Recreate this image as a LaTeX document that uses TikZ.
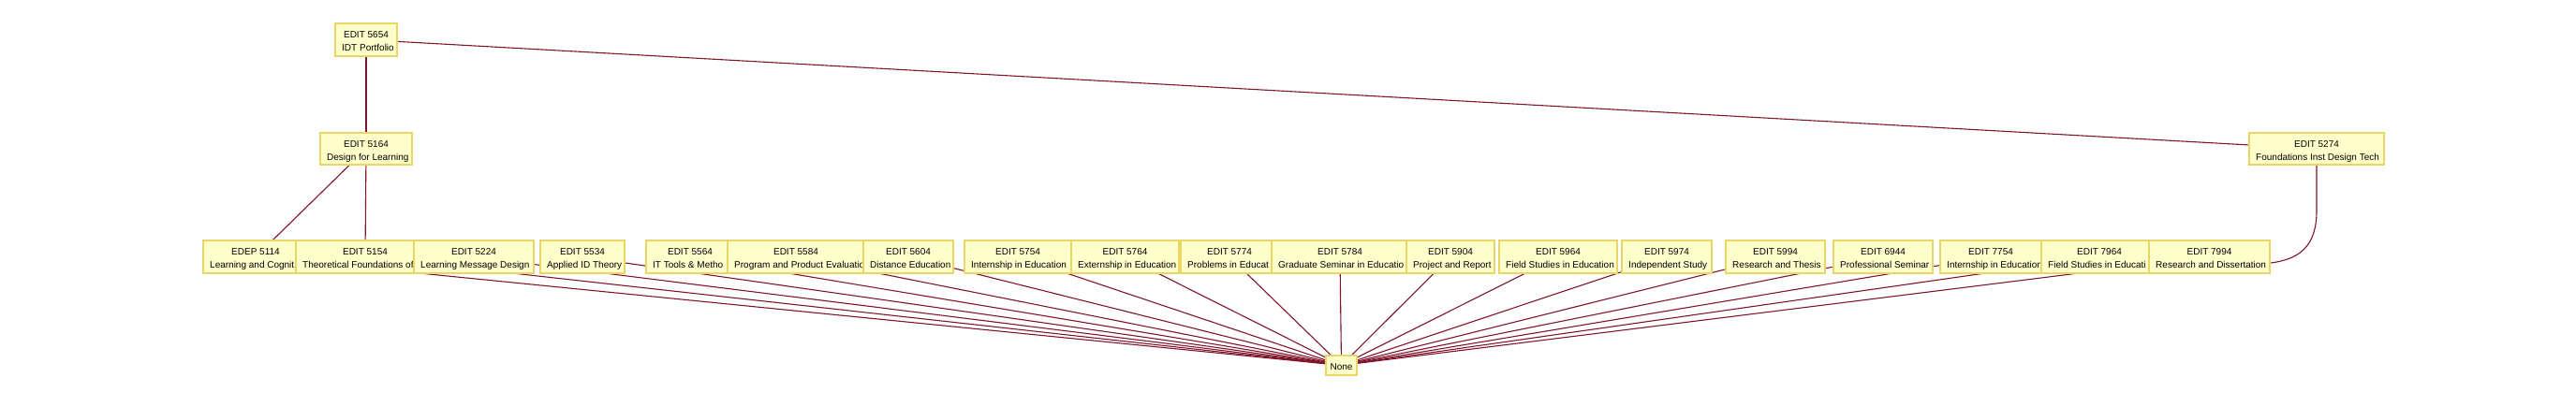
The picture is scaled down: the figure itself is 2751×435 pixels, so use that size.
\documentclass[tikz,border=0pt]{standalone}
\usepackage{fontspec}
\setmainfont{Liberation Sans}
\definecolor{boxfill}{RGB}{255,255,204}
\definecolor{boxline}{RGB}{233,214,100}
\definecolor{edgecol}{RGB}{128,20,42}
\pgfdeclarelayer{bg}
\pgfsetlayers{bg,main}
\tikzset{
  cbox/.style={rectangle, draw=boxline, fill=boxfill, line width=2.4pt, inner sep=0pt},
  ttl/.style={inner sep=0pt, anchor=base, font=\fontsize{10}{12}\selectfont},
  subt/.style={inner sep=0pt, anchor=base west, font=\fontsize{10}{12}\selectfont},
  edge/.style={draw=edgecol, line width=1.1pt},
}
% name, left, right, top, bottom, title, subtitle
\newcommand{\coursebox}[7]{%
  \node[cbox, minimum width={(#3-#2-2.4)*1pt}, minimum height={(#5-#4-2.4)*1pt}] (#1) at ({(#2+#3)/2},{(#4+#5)/2}) {};
  \node[ttl] (#1t) at ({(#2+#3)/2},{#4+16.3}) {#6};
  \node[subt] (#1s) at ({#2+8},{#4+30.3}) {#7};
}
\begin{document}
\begin{tikzpicture}[x=1pt,y=-1pt]
\useasboundingbox (0,0) rectangle (2751,435);
% upper nodes
\coursebox{b5654}{357}{425}{24}{61}{EDIT 5654}{IDT Portfolio}
\coursebox{b5164}{341}{441}{141}{177}{EDIT 5164}{Design for Learning}
\coursebox{b5274}{2401}{2547}{141}{177}{EDIT 5274}{Foundations Inst Design Tech}
% row of courses
\coursebox{b5114}{216}{330}{256}{293}{EDEP 5114}{Learning and Cognit}
\coursebox{b5154}{315}{465}{256}{293}{EDIT 5154}{Theoretical Foundations of}
\coursebox{b5224}{441}{571}{256}{293}{EDIT 5224}{Learning Message Design}
\coursebox{b5534}{576}{668}{256}{293}{EDIT 5534}{Applied ID Theory}
\coursebox{b5564}{689}{785}{256}{293}{EDIT 5564}{IT Tools \& Metho}
\coursebox{b5584}{776}{924}{256}{293}{EDIT 5584}{Program and Product Evaluatio}
\coursebox{b5604}{921}{1019}{256}{293}{EDIT 5604}{Distance Education}
\coursebox{b5754}{1029}{1145}{256}{293}{EDIT 5754}{Internship in Education}
\coursebox{b5764}{1143}{1260}{256}{293}{EDIT 5764}{Externship in Education}
\coursebox{b5774}{1260}{1366}{256}{293}{EDIT 5774}{Problems in Educat}
\coursebox{b5784}{1357}{1505}{256}{293}{EDIT 5784}{Graduate Seminar in Educatio}
\coursebox{b5904}{1501}{1597}{256}{293}{EDIT 5904}{Project and Report}
\coursebox{b5964}{1600}{1728}{256}{293}{EDIT 5964}{Field Studies in Education}
\coursebox{b5974}{1731}{1829}{256}{293}{EDIT 5974}{Independent Study}
\coursebox{b5994}{1842}{1950}{256}{293}{EDIT 5994}{Research and Thesis}
\coursebox{b6944}{1957}{2065}{256}{293}{EDIT 6944}{Professional Seminar}
\coursebox{b7754}{2071}{2181}{256}{293}{EDIT 7754}{Internship in Education}
\coursebox{b7964}{2179}{2305}{256}{293}{EDIT 7964}{Field Studies in Educati}
\coursebox{b7994}{2294}{2425}{256}{293}{EDIT 7994}{Research and Dissertation}
% sink node
\node[cbox, minimum width=32.6pt, minimum height=20.6pt] (none) at (1432.5,390.5) {};
\node[ttl] (nonet) at (1432.5,395.3) {None};
% curve helper points
\coordinate (c1) at (2474,225);
\coordinate (c2) at (2474,263);
\coordinate (c3) at (2456,277);
\coordinate (c4) at (2425,281);
\begin{pgfonlayer}{bg}
  \foreach \b in {b5114,b5154,b5224,b5534,b5564,b5584,b5604,b5754,b5764,b5774,b5784,b5904,b5964,b5974,b5994,b6944,b7754,b7964,b7994}
    \draw[edge] (\b.center) -- (none.center);
  \draw[edge] (b5654.center) -- (b5164.center);
  \draw[edge] (b5654.center) -- (b5274.center);
  \draw[edge] (b5164.center) -- (b5114.center);
  \draw[edge] (b5164.center) -- (b5154.center);
  \draw[edge] (b5274.center) -- (c1) .. controls (c2) and (c3) .. (c4) -- (b7994.center);
\end{pgfonlayer}
\end{tikzpicture}
\end{document}
